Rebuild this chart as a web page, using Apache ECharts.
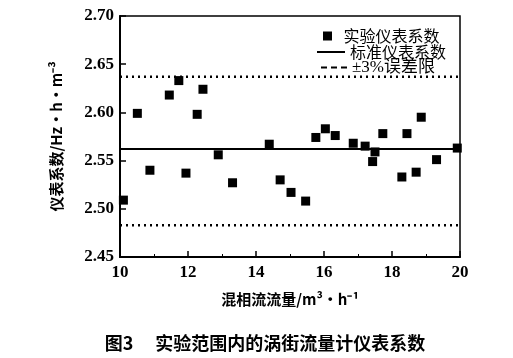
<!DOCTYPE html>
<html><head><meta charset="utf-8">
<script src="https://cdn.jsdelivr.net/npm/echarts@6/dist/echarts.min.js"></script>
<style>html,body{margin:0;padding:0;background:#fff}#c{width:513px;height:358px}</style>
</head><body><div id="c"></div>
<script>
const flowX = [10.1,10.51,10.88,11.45,11.73,11.94,12.27,12.44,12.89,13.31,14.39,14.71,15.03,15.46,15.76,16.04,16.33,16.86,17.21,17.5,17.43,17.73,18.29,18.44,18.71,18.86,19.31,19.92];
const meterK = [2.509,2.599,2.540,2.618,2.633,2.537,2.598,2.624,2.556,2.527,2.567,2.530,2.517,2.508,2.574,2.583,2.576,2.568,2.565,2.559,2.549,2.578,2.533,2.578,2.538,2.595,2.551,2.563];
const standardK = 2.562;
const upperLimit = 2.637;
const lowerLimit = 2.483;
const xRange = [10, 20];
const yTicks = [2.45, 2.50, 2.55, 2.60, 2.65, 2.70];
const xTicks = [10, 12, 14, 16, 18, 20];

const serif = '"Liberation Serif", "Noto Sans CJK SC", serif';
const cjk = '"Noto Sans CJK SC", "Liberation Serif", sans-serif';
const chart = echarts.init(document.getElementById('c'), null, {renderer:'canvas'});
const legendBase = {orient:'vertical', textStyle:{fontFamily:cjk, fontSize:16, color:'#000'}, selectedMode:false,
  itemStyle:{color:'#000', opacity:1, borderWidth:0}};
chart.setOption({
  animation:false,
  backgroundColor:'#fff',
  title:{text:'图3　 实验范围内的涡街流量计仪表系数', left:260, textAlign:'center', top:329,
    textStyle:{fontFamily:cjk, fontSize:18, fontWeight:'bold', color:'#000'}},
  grid:{left:120, right:53, top:16, bottom:101, show:true, borderColor:'#000', borderWidth:1.5, backgroundColor:'transparent'},
  legend:[
    Object.assign({}, legendBase, {data:[{name:'实验仪表系数', icon:'path://M0,0h10v10h-10z'}], left:318, top:23, itemWidth:22, itemHeight:9}),
    Object.assign({}, legendBase, {data:[{name:'标准仪表系数', icon:'path://M0,0h28v2h-28z'}], left:312, top:39, itemWidth:28, itemHeight:2}),
    Object.assign({}, legendBase, {data:[{name:'±3%误差限', icon:'path://M0,0h6v2h-6zM10,0h6v2h-6zM20,0h6v2h-6z'}], left:316, top:54, itemWidth:26, itemHeight:2,
      textStyle:{fontFamily:serif, fontSize:17, color:'#000'}})
  ],
  xAxis:{type:'value', min:xRange[0], max:xRange[1], interval:2,
    name:'混相流流量/m³·h⁻¹', nameLocation:'middle', nameGap:35,
    nameTextStyle:{fontFamily:cjk, fontSize:15, fontWeight:'bold', color:'#000'},
    axisLine:{lineStyle:{color:'#000', width:2}},
    axisTick:{inside:true, length:6, lineStyle:{color:'#000', width:1.5}},
    minorTick:{show:true, splitNumber:2, length:3, lineStyle:{color:'#000'}},
    axisLabel:{margin:7, fontFamily:serif, fontSize:17, fontWeight:'bold', color:'#000',
      formatter:v=>xTicks.includes(v)?String(v):''},
    splitLine:{show:false}},
  yAxis:{type:'value', min:yTicks[0], max:yTicks[yTicks.length-1], interval:0.05,
    name:'仪表系数/Hz·h·m⁻³', nameLocation:'middle', nameGap:56, nameRotate:90,
    nameTextStyle:{fontFamily:cjk, fontSize:15, fontWeight:'bold', color:'#000'},
    axisLine:{lineStyle:{color:'#000', width:2}},
    axisTick:{inside:true, length:6, lineStyle:{color:'#000', width:1.5}},
    axisLabel:{margin:6, fontFamily:serif, fontSize:17, fontWeight:'bold', color:'#000', formatter:v=>v.toFixed(2)},
    splitLine:{show:false}},
  series:[
    {name:'实验仪表系数', type:'scatter', symbol:'rect', symbolSize:9,
      itemStyle:{color:'#000', opacity:1}, data:flowX.map((x,i)=>[x, meterK[i]]), z:5},
    {name:'标准仪表系数', type:'line', symbol:'none', lineStyle:{color:'#000', width:2}, itemStyle:{color:'#000'},
      data:xRange.map(x=>[x, standardK])},
    {name:'±3%误差限', type:'line', symbol:'none', lineStyle:{color:'#000', width:2.5, type:[2,4]}, itemStyle:{color:'#000'},
      data:xRange.map(x=>[x, upperLimit])},
    {name:'±3%误差限', type:'line', symbol:'none', lineStyle:{color:'#000', width:2.5, type:[2,4]}, itemStyle:{color:'#000'},
      data:xRange.map(x=>[x, lowerLimit])}
  ]
});
</script></body></html>
